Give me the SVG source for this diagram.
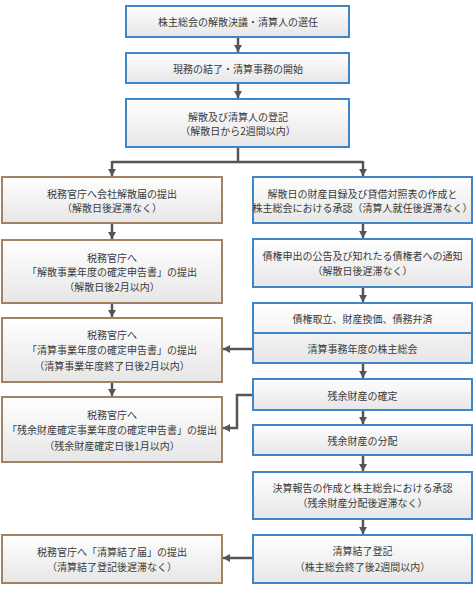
<svg xmlns="http://www.w3.org/2000/svg" width="474" height="590" viewBox="0 0 474 590">
<defs>
<linearGradient id="g" x1="0" y1="0" x2="0" y2="1">
<stop offset="0" stop-color="#ffffff"/>
<stop offset="1" stop-color="#e6e6e6"/>
</linearGradient>
<marker id="ah" markerUnits="userSpaceOnUse" markerWidth="9" markerHeight="9" refX="7" refY="4" orient="auto">
<path d="M0,0 L7,4 L0,8 z" fill="#555"/>
</marker>
<style>
.b{fill:url(#g);stroke:#3f86c8;stroke-width:2}
.r{fill:url(#g);stroke:#a38262;stroke-width:2}
text{font-family:"Noto Sans CJK JP","Noto Sans CJK SC",sans-serif;font-size:10px;fill:#3a3a3a;text-anchor:middle;dominant-baseline:central}
.c{fill:none;stroke:#555;stroke-width:2.5}
.ca{fill:none;stroke:#555;stroke-width:2.5;marker-end:url(#ah)}
</style>
</defs>
<rect width="474" height="590" fill="#fff"/>
<g id="connectors">
<path class="ca" d="M238,37 V52"/>
<path class="ca" d="M238,83 V98"/>
<path class="c" d="M238,147 V162 M112,162 H363"/>
<path class="ca" d="M112,161 V176"/>
<path class="ca" d="M363,161 V176"/>
<path class="ca" d="M112,223 V239"/>
<path class="ca" d="M112,303 V317"/>
<path class="ca" d="M112,382 V396"/>
<path class="ca" d="M363,223 V238"/>
<path class="ca" d="M363,287 V302"/>
<path class="ca" d="M363,363 V378"/>
<path class="ca" d="M363,410 V424"/>
<path class="ca" d="M363,455 V471"/>
<path class="ca" d="M363,519 V534"/>
<path class="ca" d="M253,349 H223"/>
<path class="ca" d="M253,395 H237 V428 H223"/>
<path class="ca" d="M253,558 H223"/>
</g>
<g id="n1"><rect class="b" x="126" y="6" width="223" height="31"/><text x="238" y="21.5">株主総会の解散決議・清算人の選任</text></g>
<g id="n2"><rect class="b" x="126" y="53" width="223" height="30"/><text x="238" y="68">現務の結了・清算事務の開始</text></g>
<g id="n3"><rect class="b" x="126" y="99" width="223" height="48"/><text x="238" y="116">解散及び清算人の登記</text><text x="238" y="130">（解散日から2週間以内）</text></g>
<g id="l1"><rect class="r" x="2" y="177" width="220" height="46"/><text x="112" y="193">税務官庁へ会社解散届の提出</text><text x="112" y="207">（解散日後遅滞なく）</text></g>
<g id="l2"><rect class="r" x="2" y="240" width="220" height="63"/><text x="112" y="257">税務官庁へ</text><text x="112" y="271.5">「解散事業年度の確定申告書」の提出</text><text x="112" y="286">（解散日後2月以内）</text></g>
<g id="l3"><rect class="r" x="2" y="318" width="220" height="64"/><text x="112" y="334">税務官庁へ</text><text x="112" y="349.5">「清算事業年度の確定申告書」の提出</text><text x="112" y="365">（清算事業年度終了日後2月以内）</text></g>
<g id="l4"><rect class="r" x="2" y="397" width="220" height="65"/><text x="112" y="414">税務官庁へ</text><text x="112" y="429.5">「残余財産確定事業年度の確定申告書」の提出</text><text x="112" y="445">（残余財産確定日後1月以内）</text></g>
<g id="l5"><rect class="r" x="2" y="535" width="220" height="48"/><text x="112" y="551">税務官庁へ「清算結了届」の提出</text><text x="112" y="566">（清算結了登記後遅滞なく）</text></g>
<g id="r1"><rect class="b" x="253" y="177" width="219" height="46"/><text x="362.5" y="193">解散日の財産目録及び貸借対照表の作成と</text><text x="362.5" y="207">株主総会における承認（清算人就任後遅滞なく）</text></g>
<g id="r2"><rect class="b" x="253" y="239" width="219" height="48"/><text x="362.5" y="255">債権申出の公告及び知れたる債権者への通知</text><text x="362.5" y="270">（解散日後遅滞なく）</text></g>
<g id="r3"><rect class="b" x="253" y="303" width="219" height="60"/><line x1="253" y1="333" x2="472" y2="333" stroke="#3f86c8" stroke-width="2"/><text x="362.5" y="318">債権取立、財産換価、債務弁済</text><text x="362.5" y="348">清算事務年度の株主総会</text></g>
<g id="r4"><rect class="b" x="253" y="379" width="219" height="31"/><text x="362.5" y="395">残余財産の確定</text></g>
<g id="r5"><rect class="b" x="253" y="425" width="219" height="30"/><text x="362.5" y="440">残余財産の分配</text></g>
<g id="r6"><rect class="b" x="253" y="472" width="219" height="47"/><text x="362.5" y="487.5">決算報告の作成と株主総会における承認</text><text x="362.5" y="502.5">（残余財産分配後遅滞なく）</text></g>
<g id="r7"><rect class="b" x="253" y="535" width="219" height="48"/><text x="362.5" y="550">清算結了登記</text><text x="362.5" y="566">（株主総会終了後2週間以内）</text></g>
</svg>
